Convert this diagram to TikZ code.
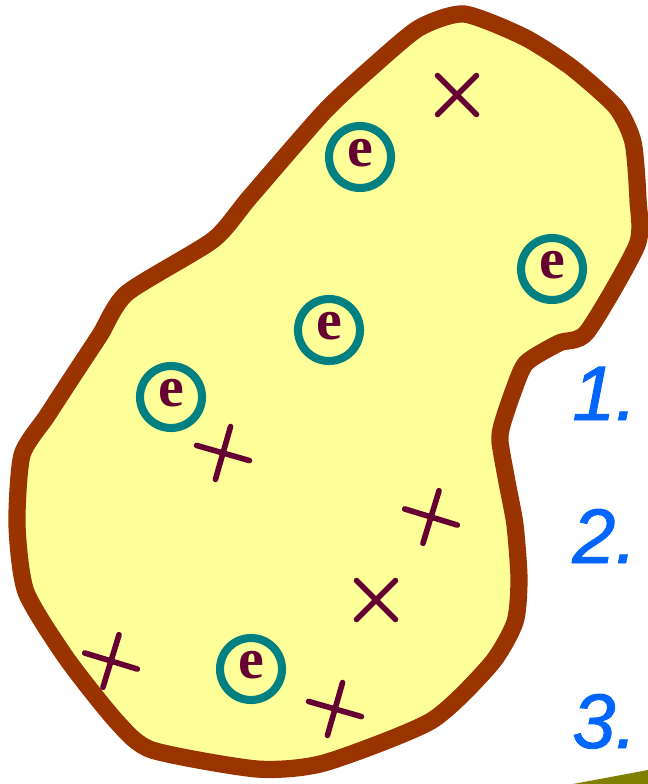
\documentclass[tikz,border=0pt]{standalone}
\usepackage{fontspec}
\newfontfamily\numfont[FakeBold=1.2]{Liberation Sans}
\newfontfamily\efont{Liberation Serif}
\definecolor{rim}{HTML}{993300}
\definecolor{blob}{HTML}{FFFF99}
\definecolor{ring}{HTML}{008080}
\definecolor{ion}{HTML}{660033}
\definecolor{numblue}{HTML}{0066FF}
\definecolor{ground}{HTML}{808000}

\begin{document}
\begin{tikzpicture}[x=0.02cm,y=-0.02cm,
  electron/.style={circle,draw=ring,line width=4.6pt,minimum size=1.24cm,inner sep=0pt,
    text=ion,font=\efont\bfseries\fontsize{33}{33}\selectfont},
  ioncross/.style={draw=ion,line width=3.2pt,line cap=round},
  numlabel/.style={anchor=base west,text=numblue,inner sep=0pt,
    font=\numfont\itshape\fontsize{44}{44}\selectfont}]
\useasboundingbox (0,0) rectangle (648,784);
% ---- metal piece ----
\draw[rim,fill=blob,line width=9.8pt,line join=round]
  plot[smooth cycle,tension=0.4] coordinates {
  (464,14) (524,37) (571,67) (616,107) (633,142) (638,200) (637,245)
  (587,332) (559,343) (526,363) (513,392) (502,425) (500,442) (507,482)
  (515,525) (519,579) (515,622) (491,664) (431,721) (324,763) (257,769)
  (152,750) (117,722) (67,659) (26,592) (17,525) (22,455) (47,416)
  (73,376) (100,335) (127,293) (213,240) (250,197) (324,112)
  (371,68) (419,28)};
% ---- free electrons ----
\node[electron] (e1) at (360,157) {\raisebox{5pt}{e}};
\node[electron] (e2) at (552,269) {\raisebox{5pt}{e}};
\node[electron] (e3) at (329,330) {\raisebox{5pt}{e}};
\node[electron] (e4) at (171,397) {\raisebox{5pt}{e}};
\node[electron] (e5) at (251,669) {\raisebox{5pt}{e}};
% ---- positive ions ----
\foreach \x/\y/\a in {457/95/45, 223/453/-16, 431/517/-17,
                      376/600/45, 111/661/-17, 335/709/-16}
  \draw[ioncross,shift={(\x,\y)},rotate=\a] (-27.5,0) -- (27.5,0) (0,-27.5) -- (0,27.5);
% ---- list numbers ----
\node[numlabel] (n1) at (572,420) {1.};
\node[numlabel] (n2) at (572,563) {2.};
\node[numlabel] (n3) at (572,748) {3.};
% ---- corner strip ----
\fill[ground] (573,784) -- (648,770) -- (648,784) -- cycle;
\end{tikzpicture}
\end{document}
